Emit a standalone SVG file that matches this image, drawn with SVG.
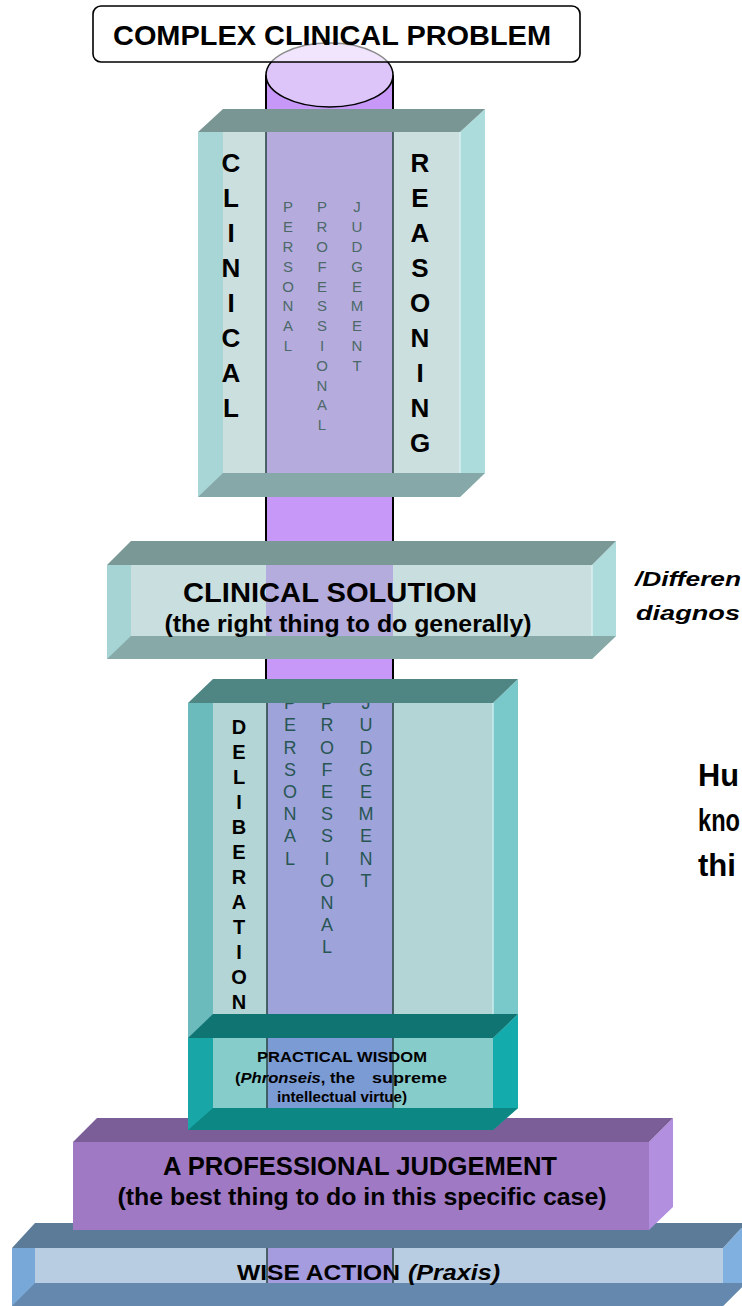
<svg xmlns="http://www.w3.org/2000/svg" width="742" height="1306" viewBox="0 0 742 1306">
<style>
.b{font-family:"Liberation Sans",Arial,sans-serif;font-weight:bold;fill:#000}
.big{font-size:26px;text-anchor:middle}
.sm{font-family:"Liberation Sans",Arial,sans-serif;font-size:15px;fill:#4c6968;text-anchor:middle}
.sm2{font-family:"Liberation Sans",Arial,sans-serif;font-size:18px;fill:#285653;text-anchor:middle}
.del{font-size:20px;text-anchor:middle}
.cl{stroke:#2f4a4a;stroke-width:1.6}
.ck{stroke:#000;stroke-width:2}
.mid{text-anchor:middle}
.side{font-family:"Liberation Sans",Arial,sans-serif;font-weight:bold;font-size:31px;fill:#000}
</style>
<g id="connectors"></g>
<g id="cylinder">
<rect x="266" y="75" width="127" height="1208" fill="#c898f8"/>
<line class="ck" x1="266" y1="75" x2="266" y2="1283"/>
<line class="ck" x1="393" y1="75" x2="393" y2="1283"/>
<ellipse cx="329.5" cy="75" rx="63.5" ry="32" fill="#ddc5f9" stroke="#000" stroke-width="1.6"/>
</g>
<g id="complex-problem">
<rect x="93" y="6" width="487" height="56" rx="8" fill="#fff" fill-opacity="0.55" stroke="#000" stroke-width="1.6"/>
<text class="b mid" x="332" y="45" font-size="27" textLength="438" lengthAdjust="spacingAndGlyphs">COMPLEX CLINICAL PROBLEM</text>
</g>
<g id="clinical-reasoning">
<rect x="198" y="132" width="25" height="365" fill="#a8d5d6"/>
<rect x="223" y="132" width="237" height="341" fill="#ccdfdf"/>
<rect x="266" y="132" width="127" height="341" fill="#b5acdd"/>
<line class="cl" x1="266" y1="132" x2="266" y2="473"/>
<line class="cl" x1="393" y1="132" x2="393" y2="473"/>
<polygon points="460,132 485,109 485,473 460,497" fill="#addcdd"/>
<line x1="460" y1="132" x2="460" y2="497" stroke="#d8f0f0" stroke-width="1.5"/>
<polygon points="198,497 223,473 485,473 460,497" fill="#87a8a8"/>
<polygon points="198,132 223,109 485,109 460,132" fill="#7a9694"/>
<text class="b big"><tspan x="231" y="172">C</tspan><tspan x="231" y="207">L</tspan><tspan x="231" y="242">I</tspan><tspan x="231" y="277">N</tspan><tspan x="231" y="312">I</tspan><tspan x="231" y="347">C</tspan><tspan x="231" y="382">A</tspan><tspan x="231" y="417">L</tspan></text>
<text class="b big"><tspan x="420" y="172">R</tspan><tspan x="420" y="207">E</tspan><tspan x="420" y="242">A</tspan><tspan x="420" y="277">S</tspan><tspan x="420" y="312">O</tspan><tspan x="420" y="347">N</tspan><tspan x="420" y="382">I</tspan><tspan x="420" y="417">N</tspan><tspan x="420" y="452">G</tspan></text>
<text class="sm"><tspan x="288" y="212">P</tspan><tspan x="288" y="232">E</tspan><tspan x="288" y="252">R</tspan><tspan x="288" y="272">S</tspan><tspan x="288" y="292">O</tspan><tspan x="288" y="311">N</tspan><tspan x="288" y="331">A</tspan><tspan x="288" y="351">L</tspan></text>
<text class="sm"><tspan x="322" y="212">P</tspan><tspan x="322" y="232">R</tspan><tspan x="322" y="252">O</tspan><tspan x="322" y="272">F</tspan><tspan x="322" y="292">E</tspan><tspan x="322" y="311">S</tspan><tspan x="322" y="331">S</tspan><tspan x="322" y="351">I</tspan><tspan x="322" y="371">O</tspan><tspan x="322" y="391">N</tspan><tspan x="322" y="410">A</tspan><tspan x="322" y="430">L</tspan></text>
<text class="sm"><tspan x="357" y="212">J</tspan><tspan x="357" y="232">U</tspan><tspan x="357" y="252">D</tspan><tspan x="357" y="272">G</tspan><tspan x="357" y="292">E</tspan><tspan x="357" y="311">M</tspan><tspan x="357" y="331">E</tspan><tspan x="357" y="351">N</tspan><tspan x="357" y="371">T</tspan></text>
</g>
<g id="clinical-solution">
<rect x="107" y="565" width="24" height="94" fill="#a6d3d3"/>
<rect x="131" y="565" width="461" height="71" fill="#c9dede"/>
<rect x="266" y="565" width="127" height="71" fill="#b4acdc"/>
<polygon points="592,565 616,541 616,636 592,659" fill="#aedcdd"/>
<line x1="592" y1="565" x2="592" y2="659" stroke="#d8f0f0" stroke-width="1.5"/>
<polygon points="107,659 131,636 616,636 592,659" fill="#87a9a7"/>
<polygon points="107,565 131,541 616,541 592,565" fill="#7a9896"/>
<text class="b mid" x="330" y="602" font-size="28" textLength="294" lengthAdjust="spacingAndGlyphs">CLINICAL SOLUTION</text>
<text class="b mid" x="348" y="632" font-size="23" textLength="367" lengthAdjust="spacingAndGlyphs">(the right thing to do generally)</text>
</g>
<g id="side-note">
<text class="b" x="635" y="586" font-size="21" font-style="italic" textLength="106" lengthAdjust="spacingAndGlyphs">/Differen</text>
<text class="b" x="636" y="620" font-size="21" font-style="italic" textLength="104" lengthAdjust="spacingAndGlyphs">diagnos</text>
</g>
<g id="side-text">
<text class="side" x="698" y="786" textLength="41" lengthAdjust="spacingAndGlyphs">Hu</text>
<text class="side" x="698" y="831" textLength="42" lengthAdjust="spacingAndGlyphs">kno</text>
<text class="side" x="698" y="876" textLength="38" lengthAdjust="spacingAndGlyphs">thi</text>
</g>
<g id="wise-action">
<rect x="12" y="1248" width="23" height="58" fill="#78a8d8"/>
<rect x="35" y="1248" width="688" height="35" fill="#b8cde1"/>
<rect x="267" y="1248" width="126" height="35" fill="#a49cde"/>
<line class="cl" x1="267" y1="1248" x2="267" y2="1283"/>
<line class="cl" x1="393" y1="1248" x2="393" y2="1283"/>
<polygon points="723,1248 746,1223 746,1283 723,1306" fill="#80b0e0"/>
<polygon points="12,1306 35,1283 746,1283 723,1306" fill="#6589ae"/>
<polygon points="12,1248 35,1223 746,1223 723,1248" fill="#5b7b98"/>
<text class="b" x="237" y="1280" font-size="22"><tspan textLength="163" lengthAdjust="spacingAndGlyphs">WISE ACTION</tspan><tspan font-style="italic" dx="8" textLength="92" lengthAdjust="spacingAndGlyphs">(Praxis)</tspan></text>
</g>
<g id="professional-judgement">
<rect x="73" y="1142" width="576" height="88" fill="#a079c4"/>
<polygon points="649,1142 673,1118 673,1207 649,1230" fill="#b38fe0"/>
<polygon points="73,1142 97,1118 673,1118 649,1142" fill="#7b5e98"/>
<text class="b mid" x="360" y="1175" font-size="26" textLength="394" lengthAdjust="spacingAndGlyphs">A  PROFESSIONAL JUDGEMENT</text>
<text class="b mid" x="362" y="1205" font-size="23" textLength="489" lengthAdjust="spacingAndGlyphs">(the best thing to do in this specific case)</text>
</g>
<g id="deliberation">
<rect x="188" y="703" width="25" height="335" fill="#6bbabc"/>
<rect x="213" y="703" width="280" height="335" fill="#b3d5d6"/>
<rect x="267" y="703" width="126" height="335" fill="#9ea3da"/>
<line class="cl" x1="267" y1="703" x2="267" y2="1038"/>
<line class="cl" x1="393" y1="703" x2="393" y2="1038"/>
<polygon points="493,703 518,679 518,1014 493,1038" fill="#7ac9ca"/>
<line x1="493" y1="703" x2="493" y2="1038" stroke="#c8ecec" stroke-width="1.5"/>
<text class="b del"><tspan x="239" y="734">D</tspan><tspan x="239" y="759">E</tspan><tspan x="239" y="784">L</tspan><tspan x="239" y="809">I</tspan><tspan x="239" y="834">B</tspan><tspan x="239" y="859">E</tspan><tspan x="239" y="884">R</tspan><tspan x="239" y="909">A</tspan><tspan x="239" y="934">T</tspan><tspan x="239" y="959">I</tspan><tspan x="239" y="984">O</tspan><tspan x="239" y="1009">N</tspan></text>
<text class="sm2"><tspan x="290" y="709">P</tspan><tspan x="290" y="731">E</tspan><tspan x="290" y="754">R</tspan><tspan x="290" y="776">S</tspan><tspan x="290" y="798">O</tspan><tspan x="290" y="820">N</tspan><tspan x="290" y="842">A</tspan><tspan x="290" y="865">L</tspan></text>
<text class="sm2"><tspan x="327" y="709">P</tspan><tspan x="327" y="731">R</tspan><tspan x="327" y="754">O</tspan><tspan x="327" y="776">F</tspan><tspan x="327" y="798">E</tspan><tspan x="327" y="820">S</tspan><tspan x="327" y="842">S</tspan><tspan x="327" y="865">I</tspan><tspan x="327" y="887">O</tspan><tspan x="327" y="909">N</tspan><tspan x="327" y="931">A</tspan><tspan x="327" y="953">L</tspan></text>
<text class="sm2"><tspan x="366" y="709">J</tspan><tspan x="366" y="731">U</tspan><tspan x="366" y="754">D</tspan><tspan x="366" y="776">G</tspan><tspan x="366" y="798">E</tspan><tspan x="366" y="820">M</tspan><tspan x="366" y="842">E</tspan><tspan x="366" y="865">N</tspan><tspan x="366" y="887">T</tspan></text>
<polygon points="188,703 213,679 518,679 493,703" fill="#4f8684"/>
</g>
<g id="practical-wisdom">
<rect x="188" y="1038" width="25" height="92" fill="#18a6a6"/>
<rect x="213" y="1038" width="280" height="70" fill="#86ccca"/>
<rect x="267" y="1038" width="126" height="70" fill="#7b9bd5"/>
<line class="cl" x1="267" y1="1038" x2="267" y2="1108"/>
<line class="cl" x1="393" y1="1038" x2="393" y2="1108"/>
<polygon points="493,1038 518,1014 518,1108 493,1130" fill="#13abab"/>
<polygon points="188,1130 213,1108 518,1108 493,1130" fill="#0d8784"/>
<polygon points="188,1038 213,1014 518,1014 493,1038" fill="#107472"/>
<text class="b mid" x="342" y="1062" font-size="15" textLength="170" lengthAdjust="spacingAndGlyphs">PRACTICAL WISDOM</text>
<text class="b" x="235" y="1083" font-size="15" textLength="120" lengthAdjust="spacingAndGlyphs">(<tspan font-style="italic">Phronseis</tspan>, the</text>
<text class="b" x="372" y="1083" font-size="15" textLength="75" lengthAdjust="spacingAndGlyphs">supreme</text>
<text class="b" x="277" y="1102" font-size="15" textLength="130" lengthAdjust="spacingAndGlyphs">intellectual virtue)</text>
</g>
</svg>
